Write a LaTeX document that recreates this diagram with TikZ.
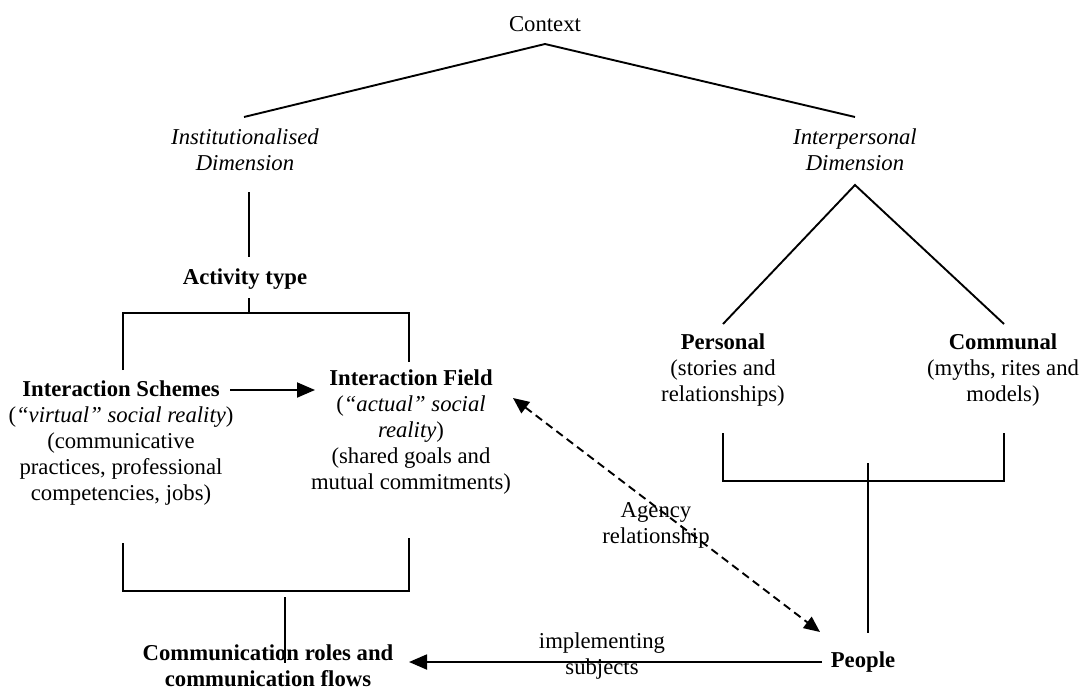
\documentclass[tikz,border=0pt]{standalone}
\usepackage{fontspec}
\setmainfont{Liberation Serif}
\usetikzlibrary{arrows.meta}
\begin{document}
\begin{tikzpicture}[x=1pt,y=-1pt,
  line width=1.9pt,
  lbl/.style={inner sep=0pt,align=center,font=\fontsize{22.7}{26}\selectfont},
  tip/.style={-{Triangle[length=18pt,width=15pt]}},
  twotip/.style={{Triangle[length=16pt,width=14pt]}-{Triangle[length=16pt,width=14pt]}},
  dashline/.style={dash pattern=on 8pt off 5pt}]
\useasboundingbox (0,0) rectangle (1081,686);

% labels
\node[lbl] (ctx) at (545,24) {Context};
\node[lbl] (inst) at (245,150) {\itshape Institutionalised\\\itshape Dimension};
\node[lbl] (interp) at (855,150) {\itshape Interpersonal\\\itshape Dimension};
\node[lbl] (act) at (245,279) {\bfseries Activity type};
\node[lbl] (schemes) at (121,443.5) {\bfseries Interaction Schemes\\(\textit{``virtual'' social reality})\\(communicative\\practices, professional\\competencies, jobs)};
\node[lbl] (field) at (411,432) {\bfseries Interaction Field\\(\textit{``actual'' social}\\\textit{reality})\\(shared goals and\\mutual commitments)};
\node[lbl] (pers) at (723,370) {\bfseries Personal\\(stories and\\relationships)};
\node[lbl] (comm) at (1003,370) {\bfseries Communal\\(myths, rites and\\models)};
\node[lbl] (flows) at (268,666) {\bfseries Communication roles and\\\bfseries communication flows};
\node[lbl] (people) at (863,662) {\bfseries People};
\node[lbl] (impl) at (602,656) {implementing\\subjects};
\node[lbl] (agency) at (656,525) {Agency\\relationship};

% end points of the tree lines
\coordinate (apex) at (545,44);
\coordinate (instTop) at (244,117);
\coordinate (interpTop) at (855,117);
\coordinate (instBot) at (249,192);
\coordinate (actTop) at (249,257);
\coordinate (actBot) at (249,298);
\coordinate (actBar) at (249,313);
\coordinate (barL) at (123,313);
\coordinate (barR) at (409,313);
\coordinate (schemesTop) at (123,370);
\coordinate (fieldTop) at (409,362);
\coordinate (schemesBot) at (123,543);
\coordinate (fieldBot) at (409,538);
\coordinate (lowL) at (123,591);
\coordinate (lowR) at (409,591);
\coordinate (flowsTop) at (285,597);
\coordinate (flowsStem) at (285,663);
\coordinate (interpBot) at (855,185);
\coordinate (persTop) at (723,324);
\coordinate (commTop) at (1004,324);
\coordinate (persBot) at (723,433);
\coordinate (commBot) at (1004,433);
\coordinate (persBar) at (723,481);
\coordinate (commBar) at (1004,481);
\coordinate (peopleStemTop) at (868,463);
\coordinate (peopleStemBot) at (868,633);
\coordinate (schemesArrow) at (230,390);
\coordinate (fieldArrow) at (315,390);
\coordinate (peopleArrow) at (822,662);
\coordinate (flowsArrow) at (409,662);
\coordinate (agencyA) at (513,398);
\coordinate (agencyB) at (820,632);

% institutionalised branch
\draw (instTop) -- (apex) -- (interpTop);
\draw (instBot) -- (actTop);
\draw (actBot) -- (actBar);
\draw (schemesTop) -- (barL) -- (barR) -- (fieldTop);
\draw (schemesBot) -- (lowL) -- (lowR) -- (fieldBot);
\draw (flowsTop) -- (flowsStem);

% interpersonal branch
\draw (persTop) -- (interpBot) -- (commTop);
\draw (persBot) -- (persBar) -- (commBar) -- (commBot);
\draw (peopleStemTop) -- (peopleStemBot);

% arrows
\draw[tip] (schemesArrow) -- (fieldArrow);
\draw[tip] (peopleArrow) -- (flowsArrow);
\draw[twotip,dashline] (agencyA) -- (agencyB);
\end{tikzpicture}
\end{document}
